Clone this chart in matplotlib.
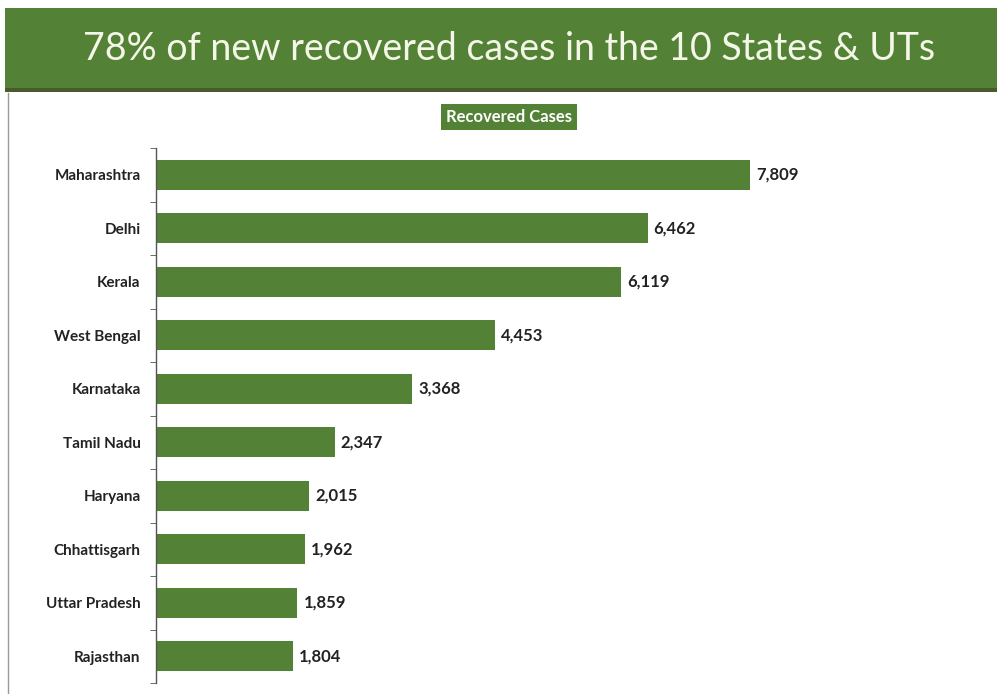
import matplotlib.pyplot as plt
import matplotlib.patches as patches
import numpy as np

states = ["Maharashtra", "Delhi", "Kerala", "West Bengal", "Karnataka",
          "Tamil Nadu", "Haryana", "Chhattisgarh", "Uttar Pradesh", "Rajasthan"]
recovered = [7809, 6462, 6119, 4453, 3368, 2347, 2015, 1962, 1859, 1804]

title = "78% of new recovered cases in the 10 States & UTs"
legend_label = "Recovered Cases"

green = "#538135"

fig = plt.figure(figsize=(9.97, 6.94), dpi=100)
fig.patch.set_facecolor("white")

# title band
band = patches.Rectangle((0.005, 1 - 88 / 694), 0.995, 80 / 694, transform=fig.transFigure,
                         facecolor=green, edgecolor="none")
fig.patches.append(band)
shadow = patches.Rectangle((0.005, 1 - 92 / 694), 0.995, 4 / 694, transform=fig.transFigure,
                           facecolor="#4a5a2a", edgecolor="none")
fig.patches.append(shadow)
fig.text(0.511, 1 - 49 / 694, title, ha="center", va="center", color="#f4f6e8",
         fontsize=27, family="Lato")

# thin left border
fig.lines.append(plt.Line2D([0.008, 0.008], [0, 1 - 93 / 694], transform=fig.transFigure,
                            color="#999999", lw=1))

ax = fig.add_axes([156 / 997, 1 - 683 / 694, 800 / 997, 535 / 694])
y = np.arange(len(states))
ax.barh(y, recovered, height=0.57, color=green)
ax.set_ylim(len(states) - 0.5, -0.5)
ax.set_xlim(0, 800 / (594 / 7809))

for yi, v in zip(y, recovered):
    ax.text(v + 80, yi, f"{v:,}", va="center", ha="left", fontsize=12,
            fontweight="bold", family="Lato", color="#222222")

ax.set_yticks(y)
ax.set_yticklabels(states, fontsize=11, fontweight="bold", family="Lato", color="#222222")
ax.tick_params(axis="y", length=0, pad=11)
ax.set_yticks(np.arange(-0.5, len(states), 1), minor=True)
ax.tick_params(axis="y", which="minor", length=4, color="#555555", direction="out")
ax.set_xticks([])
for s in ["top", "right", "bottom"]:
    ax.spines[s].set_visible(False)
ax.spines["left"].set_color("#555555")
ax.spines["left"].set_linewidth(1)

# legend box
fig.text(0.511, 1 - 117 / 694, legend_label, ha="center", va="center", color="white",
         fontsize=12, fontweight="bold", family="Lato",
         bbox=dict(boxstyle="square,pad=0.3", facecolor=green, edgecolor="none"))

fig.savefig("out.png", dpi=100)
